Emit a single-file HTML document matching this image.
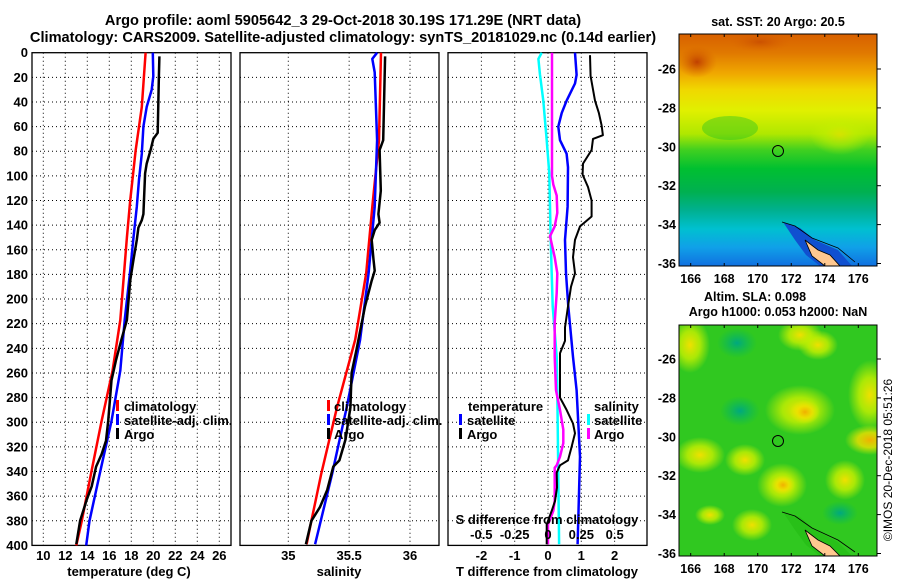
<!DOCTYPE html>
<html><head><meta charset="utf-8"><style>
html,body{margin:0;padding:0;background:#fff;}
svg{display:block;font-family:"Liberation Sans",sans-serif;font-weight:bold;}
</style></head><body>
<svg id="fig" width="900" height="580" viewBox="0 0 900 580" xmlns="http://www.w3.org/2000/svg">
<defs>
<linearGradient id="sstg" x1="0" y1="0" x2="0" y2="1">
<stop offset="0" stop-color="#d86000"/><stop offset="0.08" stop-color="#e07800"/>
<stop offset="0.17" stop-color="#f0a800"/><stop offset="0.24" stop-color="#f0d800"/>
<stop offset="0.33" stop-color="#e0f000"/><stop offset="0.43" stop-color="#b0e800"/>
<stop offset="0.50" stop-color="#40d020"/><stop offset="0.58" stop-color="#00c030"/>
<stop offset="0.68" stop-color="#00b050"/><stop offset="0.76" stop-color="#00b090"/>
<stop offset="0.84" stop-color="#00c0d0"/><stop offset="0.92" stop-color="#10a0e8"/>
<stop offset="1" stop-color="#1070e0"/></linearGradient>
<radialGradient id="yb"><stop offset="0" stop-color="#f0e000"/><stop offset="0.5" stop-color="#c8f000" stop-opacity="0.8"/><stop offset="1" stop-color="#c8f000" stop-opacity="0"/></radialGradient>
<radialGradient id="ob"><stop offset="0" stop-color="#f0b000"/><stop offset="0.5" stop-color="#f0e000" stop-opacity="0.8"/><stop offset="1" stop-color="#e0f000" stop-opacity="0"/></radialGradient>
<radialGradient id="tb"><stop offset="0" stop-color="#00a880"/><stop offset="1" stop-color="#00b860" stop-opacity="0"/></radialGradient>
<radialGradient id="rb"><stop offset="0" stop-color="#c04000"/><stop offset="1" stop-color="#d86000" stop-opacity="0"/></radialGradient>
<clipPath id="c1"><rect x="679" y="34" width="198" height="232"/></clipPath>
<clipPath id="c2"><rect x="679" y="325" width="198" height="231"/></clipPath>
</defs>

<text x="343" y="25" font-size="14.6" text-anchor="middle">Argo profile: aoml 5905642_3 29-Oct-2018 30.19S 171.29E (NRT data)</text>
<text x="343" y="42" font-size="14.6" text-anchor="middle">Climatology: CARS2009. Satellite-adjusted climatology: synTS_20181029.nc (0.14d earlier)</text>

<g id="grids"></g>
<g id="lines"></g>
<g id="labels" font-size="13"></g>

<g font-size="13">
<rect x="116" y="400" width="3" height="11" fill="#f00"/><text x="124" y="411">climatology</text>
<rect x="116" y="414" width="3" height="11" fill="#00f"/><text x="124" y="425">satellite-adj. clim.</text>
<rect x="116" y="428" width="3" height="11" fill="#000"/><text x="124" y="439">Argo</text>
</g>
<g font-size="13">
<rect x="327" y="400" width="3" height="11" fill="#f00"/><text x="334" y="411">climatology</text>
<rect x="327" y="414" width="3" height="11" fill="#00f"/><text x="334" y="425">satellite-adj. clim.</text>
<rect x="327" y="428" width="3" height="11" fill="#000"/><text x="334" y="439">Argo</text>
</g>
<g font-size="13">
<text x="468" y="411">temperature</text>
<rect x="459" y="414" width="3" height="11" fill="#00f"/><text x="467" y="425">satellite</text>
<rect x="459" y="428" width="3" height="11" fill="#000"/><text x="467" y="439">Argo</text>
<text x="594" y="411">salinity</text>
<rect x="587" y="414" width="3" height="11" fill="#0ff"/><text x="594" y="425">satellite</text>
<rect x="587" y="428" width="3" height="11" fill="#f0f"/><text x="594" y="439">Argo</text>
</g>
<text x="547" y="524" font-size="13" text-anchor="middle">S difference from climatology</text>

<g>
<text x="778" y="26" font-size="12.5" text-anchor="middle">sat. SST: 20 Argo: 20.5</text>
<g clip-path="url(#c1)">
<rect x="679" y="34" width="198" height="232" fill="url(#sstg)"/>
<ellipse cx="697" cy="62" rx="20" ry="16" fill="url(#rb)"/>
<ellipse cx="760" cy="42" rx="30" ry="10" fill="url(#rb)" opacity="0.6"/>
<ellipse cx="730" cy="128" rx="28" ry="12" fill="#20c020" opacity="0.4"/>
<ellipse cx="840" cy="135" rx="30" ry="20" fill="url(#yb)" opacity="0.6"/>
<path d="M783,222 L800,228 L815,240 L838,250 L852,266 L820,266 L806,255 L795,240 Z" fill="#1050d0"/>
<path d="M805,240 L818,250 L830,255 L840,266 L825,266 L812,256 Z" fill="#ffc890" stroke="#000" stroke-width="0.8"/>
<path d="M782,222 L795,226 L812,238 L838,248 L855,262" fill="none" stroke="#000" stroke-width="0.8"/>
</g>
<rect x="679" y="34" width="198" height="232" fill="none" stroke="#000"/>
<circle cx="778" cy="151" r="5.5" fill="none" stroke="#000"/>
</g>

<g>
<text x="755" y="301" font-size="12.5" text-anchor="middle">Altim. SLA: 0.098</text>
<text x="778" y="316" font-size="12.5" text-anchor="middle">Argo h1000: 0.053 h2000: NaN</text>
<g clip-path="url(#c2)">
<rect x="679" y="325" width="198" height="231" fill="#30c820"/>
<ellipse cx="690" cy="345" rx="20" ry="28" fill="url(#yb)"/>
<ellipse cx="800" cy="335" rx="22" ry="16" fill="url(#yb)"/>
<ellipse cx="818" cy="345" rx="20" ry="15" fill="url(#yb)"/>
<ellipse cx="870" cy="395" rx="22" ry="35" fill="url(#yb)"/>
<ellipse cx="800" cy="410" rx="35" ry="25" fill="url(#yb)"/>
<ellipse cx="805" cy="412" rx="15" ry="12" fill="url(#ob)"/>
<ellipse cx="870" cy="440" rx="25" ry="15" fill="url(#ob)"/>
<ellipse cx="700" cy="455" rx="25" ry="18" fill="url(#yb)"/>
<ellipse cx="745" cy="460" rx="20" ry="16" fill="url(#yb)"/>
<ellipse cx="782" cy="485" rx="25" ry="22" fill="url(#yb)"/>
<ellipse cx="783" cy="485" rx="12" ry="10" fill="url(#ob)"/>
<ellipse cx="845" cy="480" rx="20" ry="20" fill="url(#yb)"/>
<ellipse cx="752" cy="525" rx="20" ry="16" fill="url(#yb)"/>
<ellipse cx="710" cy="515" rx="15" ry="10" fill="url(#yb)"/>
<ellipse cx="737" cy="343" rx="20" ry="15" fill="url(#tb)"/>
<ellipse cx="740" cy="411" rx="20" ry="15" fill="url(#tb)"/>
<ellipse cx="840" cy="513" rx="18" ry="12" fill="url(#tb)"/>
<path d="M783,512 L800,517 L815,530 L838,542 L852,556 L820,556 L806,545 L795,530 Z" fill="#28c018"/>
<path d="M805,530 L818,540 L830,546 L840,556 L825,556 L812,546 Z" fill="#ffc890" stroke="#000" stroke-width="0.8"/>
<path d="M782,512 L795,516 L812,528 L838,540 L855,552" fill="none" stroke="#000" stroke-width="0.8"/>
</g>
<rect x="679" y="325" width="198" height="231" fill="none" stroke="#000"/>
<circle cx="778" cy="441" r="5.5" fill="none" stroke="#000"/>
</g>
<g id="maplabels" font-size="12.5"></g>
<text transform="translate(892,460) rotate(-90)" font-size="12" font-weight="normal" text-anchor="middle">©IMOS 20-Dec-2018 05:51:26</text>
</svg>
<script>
const depthTicks = [0,20,40,60,80,100,120,140,160,180,200,220,240,260,280,300,320,340,360,380,400];
const tempTicks = [10,12,14,16,18,20,22,24,26];
const salTicks = [35,35.5,36];
const tdiffTicks = [-2,-1,0,1,2];
const sdiffTicks = [-0.5,-0.25,0,0.25,0.5];
const sdiffLabels = ["-0.5","-0.25","0","0.25","0.5"];

const tClimDepth = [0,44,79,120,150,217,258,299,339,380,400];
const tClimVal = [19.3,18.95,18.4,17.9,17.6,17.0,16.3,15.3,14.4,13.5,13.0];
const tSatDepth = [0,19,30,44,60,82,103,125,150,177,217,258,299,339,380,400];
const tSatVal = [19.95,20.0,19.85,19.4,19.1,18.95,18.7,18.5,18.2,17.9,17.4,17.0,16.2,15.2,14.2,13.9];
const tArgoDepth = [3,22,65,70,79,90,98,131,136,142,152,168,185,217,233,250,266,282,299,315,326,336,352,363,380,399];
const tArgoVal = [20.55,20.5,20.4,20.0,19.75,19.4,19.25,19.1,18.95,18.65,18.5,18.2,17.9,17.6,17.1,16.6,16.2,16.05,15.9,15.7,15.3,14.8,14.4,13.95,13.35,13.0];

const sClimDepth = [0,71,125,179,233,288,342,380,399];
const sClimVal = [35.762,35.745,35.69,35.64,35.55,35.40,35.27,35.19,35.15];
const sSatDepth = [0,5,16,71,125,179,233,288,342,399];
const sSatVal = [35.73,35.69,35.71,35.73,35.71,35.66,35.59,35.48,35.36,35.22];
const sArgoDepth = [3,71,79,112,131,138,144,152,168,177,185,206,241,260,288,314,331,336,355,369,380,399];
const sArgoVal = [35.795,35.78,35.75,35.76,35.74,35.75,35.71,35.685,35.70,35.71,35.685,35.63,35.56,35.52,35.51,35.47,35.42,35.37,35.32,35.26,35.19,35.145];

const dTArgoDepth = [2,19,39,49,59,67,70,79,90,99,109,120,133,141,152,166,179,190,206,223,234,244,280,290,301,309,320,331,335,341,353,364,372,383,399];
const dTArgoVal = [1.26,1.28,1.41,1.53,1.61,1.65,1.35,1.31,1.05,1.04,1.2,1.31,1.31,0.96,0.81,0.75,0.81,0.69,0.6,0.51,0.51,0.36,0.36,0.56,0.75,0.81,0.71,0.6,0.36,0.26,0.27,0.21,0.11,-0.04,-0.04];
const dTSatDepth = [0,18,25,39,49,60,71,82,93,125,152,179,206,247,274,328,399];
const dTSatVal = [0.81,0.86,0.81,0.56,0.41,0.31,0.36,0.56,0.6,0.59,0.51,0.54,0.61,0.75,0.86,0.96,0.89];
const dSSatDepth = [0,5,18,39,71,98,152,206,247,274,399];
const dSSatVal = [-0.047,-0.072,-0.06,-0.035,-0.01,0.01,0.02,0.035,0.065,0.07,0.083];
const dSArgoDepth = [0,100,107,116,130,141,149,166,179,195,219,247,274,290,306,317,328,335,337,364,372,383,399];
const dSArgoVal = [0.03,0.03,0.04,0.065,0.07,0.05,0.015,0.05,0.07,0.065,0.05,0.05,0.06,0.09,0.115,0.115,0.09,0.065,0.05,0.05,0.04,0.0,0.0];

const latTicks = [-26,-28,-30,-32,-34,-36];
const lonTicks = [166,168,170,172,174,176];

const TOP=52.7, BOT=545.4;
const yD = d => TOP + d*(BOT-TOP)/400;
const xT = t => 43.3 + (t-10)*11.0;
const xS = s => 288.3 + (s-35)*121.7;
const xTd = t => 548 + t*33.3;
const xSd = s => 548 + s*133.3;
const panels = [[32,231],[240,439],[448,647]];
const NS='http://www.w3.org/2000/svg';
function mk(tag, attrs, parent){const e=document.createElementNS(NS,tag);for(const k in attrs)e.setAttribute(k,attrs[k]);parent.appendChild(e);return e;}
const G=document.getElementById('grids'), L=document.getElementById('lines'), LB=document.getElementById('labels'), ML=document.getElementById('maplabels');

panels.forEach((p,i)=>{
  depthTicks.forEach(d=>{ if(d>0&&d<400){const l=mk('line',{x1:p[0],x2:p[1],y1:yD(d),y2:yD(d),stroke:'#000','stroke-dasharray':'1,3'},G);
    
    }});
  const xs = i===0?tempTicks.map(xT):i===1?salTicks.map(xS):tdiffTicks.map(xTd);
  xs.forEach(x=>{const l=mk('line',{x1:x,x2:x,y1:TOP,y2:BOT,stroke:'#000','stroke-dasharray':'1,3'},G);
    
    });
  const r=mk('rect',{x:p[0],y:TOP,width:p[1]-p[0],height:BOT-TOP,fill:'none',stroke:'#000','stroke-width':1.3},G);
  
  
});

function line(depths, vals, xf, color, w, name){
  const pts = depths.map((d,i)=>xf(vals[i]).toFixed(1)+','+yD(d).toFixed(1)).join(' ');
  const e=mk('polyline',{points:pts,fill:'none',stroke:color,'stroke-width':w,'stroke-linejoin':'round'},L);
  
  
}
line(tClimDepth,tClimVal,xT,'#f00',2.5,'temp-climatology-line');
line(tSatDepth,tSatVal,xT,'#00f',2.5,'temp-satellite-line');
line(tArgoDepth,tArgoVal,xT,'#000',2.5,'temp-argo-line');
line(sClimDepth,sClimVal,xS,'#f00',2.5,'sal-climatology-line');
line(sSatDepth,sSatVal,xS,'#00f',2.5,'sal-satellite-line');
line(sArgoDepth,sArgoVal,xS,'#000',2.5,'sal-argo-line');
line(dSSatDepth,dSSatVal,xSd,'#0ff',2.5,'sdiff-satellite-line');
line(dSArgoDepth,dSArgoVal,xSd,'#f0f',2.5,'sdiff-argo-line');
line(dTSatDepth,dTSatVal,xTd,'#00f',2.5,'tdiff-satellite-line');
line(dTArgoDepth,dTArgoVal,xTd,'#000',2,'tdiff-argo-line');

function txt(x,y,s,anchor,parent,name){const e=mk('text',{x:x,y:y,'text-anchor':anchor},parent);e.textContent=s;
  
  return e;}
depthTicks.forEach(d=>txt(28,yD(d)+4.5,String(d),'end',LB,'depth-tick-label'));
tempTicks.forEach(t=>txt(xT(t),560,String(t),'middle',LB,'temp-tick-label'));
salTicks.forEach(s=>txt(xS(s),560,String(s),'middle',LB,'sal-tick-label'));
tdiffTicks.forEach(t=>txt(xTd(t),560,String(t),'middle',LB,'tdiff-tick-label'));
sdiffTicks.forEach((s,i)=>txt(xSd(s),539,sdiffLabels[i],'middle',LB,'sdiff-tick-label'));
txt(129,576,'temperature (deg C)','middle',LB,'temp-axis-title');
txt(339,576,'salinity','middle',LB,'sal-axis-title');
txt(547,576,'T difference from climatology','middle',LB,'tdiff-axis-title');

const xLon = lon => 690.7 + (lon-166)*16.76;
const yLat1 = lat => 69 + (-26-lat)*19.45;
const yLat2 = lat => 359 + (-26-lat)*19.45;
lonTicks.forEach(lon=>{
  txt(xLon(lon),283,String(lon),'middle',ML,'sst-lon-label');
  txt(xLon(lon),573,String(lon),'middle',ML,'sla-lon-label');
  [[34,37],[266,263],[325,328],[556,553]].forEach(([a,b])=>{const l=mk('line',{x1:xLon(lon),x2:xLon(lon),y1:a,y2:b,stroke:'#000'},ML);
    
    });
});
latTicks.forEach(lat=>{
  txt(676,yLat1(lat)+4.5,String(lat),'end',ML,'sst-lat-label');
  txt(676,yLat2(lat)+4.5,String(lat),'end',ML,'sla-lat-label');
  [yLat1(lat),yLat2(lat)].forEach(y=>{const l=mk('line',{x1:877,x2:881,y1:y,y2:y,stroke:'#000'},ML);
    
    });
});
</script>
</body></html>
